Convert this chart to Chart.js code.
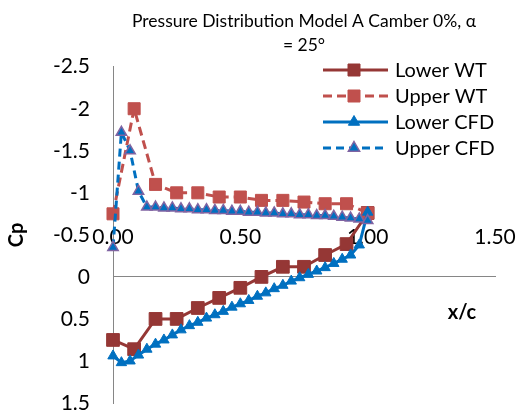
<!DOCTYPE html>
<html><head><meta charset="utf-8">
<script src="https://cdn.jsdelivr.net/npm/chart.js@4.4.1/dist/chart.umd.min.js"></script>
<style>html,body{margin:0;padding:0;background:#fff}#wrap{width:520px;height:419px}</style>
</head><body><div id="wrap"><canvas id="c" width="520" height="419"></canvas></div>
<script>
const xWT = [0, 0.083, 0.167, 0.25, 0.333, 0.417, 0.5, 0.583, 0.667, 0.75, 0.833, 0.917, 1.0];
const lowerWT = [0.75, 0.86, 0.50, 0.50, 0.37, 0.25, 0.13, 0.00, -0.12, -0.12, -0.26, -0.39, -0.76];
const upperWT = [-0.75, -2.00, -1.10, -1.00, -1.00, -0.95, -0.95, -0.91, -0.91, -0.89, -0.87, -0.87, -0.76];
const xCFD = [0, 0.033, 0.067, 0.1, 0.133, 0.167, 0.2, 0.233, 0.267, 0.3, 0.333, 0.367, 0.4, 0.433, 0.467, 0.5,
  0.533, 0.567, 0.6, 0.633, 0.667, 0.7, 0.733, 0.767, 0.8, 0.833, 0.867, 0.9, 0.933, 0.967, 1.0];
const lowerCFD = [0.94, 1.02, 1.00, 0.93, 0.86, 0.80, 0.75, 0.69, 0.63, 0.58, 0.54, 0.49, 0.45, 0.41, 0.36, 0.32,
  0.28, 0.23, 0.19, 0.14, 0.10, 0.05, 0.01, -0.03, -0.07, -0.11, -0.16, -0.21, -0.26, -0.38, -0.77];
const upperCFD = [-0.35, -1.72, -1.50, -1.02, -0.83, -0.83, -0.82, -0.82, -0.81, -0.81, -0.80, -0.80, -0.79, -0.79, -0.78, -0.78,
  -0.77, -0.77, -0.76, -0.76, -0.75, -0.75, -0.74, -0.74, -0.73, -0.73, -0.72, -0.71, -0.70, -0.69, -0.67];
const xTicks = [0, 0.5, 1, 1.5];
const xTickLabels = ['0.00', '0.50', '1.00', '1.50'];
const yTicks = [-2.5, -2, -1.5, -1, -0.5, 0, 0.5, 1, 1.5];
const yTickLabels = ['-2.5', '-2', '-1.5', '-1', '-0.5', '0', '0.5', '1', '1.5'];
const seriesNames = ['Lower WT', 'Upper WT', 'Lower CFD', 'Upper CFD'];
const titleLines = ['Pressure Distribution Model A Camber 0%, \u03b1', '= 25\u00b0'];

Chart.defaults.font.family = 'Lato, "Open Sans", sans-serif';
Chart.defaults.color = '#000';

const pts = (xs, ys) => xs.map((x, i) => ({x: x, y: ys[i]}));

const legendPlugin = {
  id: 'excelLegend',
  afterDraw(chart) {
    const ctx = chart.ctx;
    const ds = chart.data.datasets;
    ctx.save();
    ds.forEach((d, i) => {
      const y = 70 + i * 26;
      ctx.strokeStyle = d.borderColor;
      ctx.lineWidth = d.borderWidth;
      ctx.setLineDash(d.borderDash || []);
      ctx.beginPath(); ctx.moveTo(323, y); ctx.lineTo(388, y); ctx.stroke();
      ctx.setLineDash([]);
      const cx = 354;
      ctx.fillStyle = d.pointBackgroundColor;
      ctx.strokeStyle = d.pointBorderColor;
      ctx.lineWidth = d.pointBorderWidth;
      ctx.beginPath();
      if (d.pointStyle === 'rect') {
        const s = 6;
        ctx.rect(cx - s, y - s, 2 * s, 2 * s);
      } else {
        const r = 6.5;
        ctx.moveTo(cx, y - r);
        ctx.lineTo(cx + r * 0.866, y + r / 2);
        ctx.lineTo(cx - r * 0.866, y + r / 2);
        ctx.closePath();
      }
      ctx.fill();
      if (d.pointBorderWidth > 0) ctx.stroke();
      ctx.fillStyle = '#000';
      ctx.font = '20px Lato, "Open Sans", sans-serif';
      ctx.textBaseline = 'middle';
      ctx.textAlign = 'left';
      ctx.fillText(seriesNames[i], 395, y + 1);
    });
    ctx.font = 'bold 20px Lato, "Open Sans", sans-serif';
    ctx.textAlign = 'center';
    ctx.textBaseline = 'middle';
    ctx.fillText('x/c', 462, 313);
    ctx.restore();
  }
};

new Chart(document.getElementById('c'), {
  type: 'scatter',
  data: {
    datasets: [
      {label: seriesNames[0], data: pts(xWT, lowerWT), showLine: true, borderColor: '#953735', backgroundColor: '#953735',
        borderWidth: 3, pointStyle: 'rect', pointRadius: 9, pointBackgroundColor: '#953735', pointBorderColor: '#953735',
        pointBorderWidth: 1, order: 4, clip: false},
      {label: seriesNames[1], data: pts(xWT, upperWT), showLine: true, borderColor: '#C0504D', backgroundColor: '#C0504D',
        borderWidth: 3, borderDash: [9, 5], pointStyle: 'rect', pointRadius: 8.5, pointBackgroundColor: '#C0504D', pointBorderColor: '#C0504D',
        pointBorderWidth: 1, order: 3, clip: false},
      {label: seriesNames[2], data: pts(xCFD, lowerCFD), showLine: true, borderColor: '#0070C0', backgroundColor: '#0070C0',
        borderWidth: 3, pointStyle: 'triangle', pointRadius: 6, pointBackgroundColor: '#0070C0', pointBorderColor: '#0070C0',
        pointBorderWidth: 1, order: 2, clip: false},
      {label: seriesNames[3], data: pts(xCFD, upperCFD), showLine: true, borderColor: '#0070C0', backgroundColor: '#0070C0',
        borderWidth: 3, borderDash: [8, 5], pointStyle: 'triangle', pointRadius: 6, pointBackgroundColor: '#0070C0', pointBorderColor: '#8064A2',
        pointBorderWidth: 1.5, order: 1, clip: false}
    ]
  },
  options: {
    responsive: false,
    animation: false,
    events: [],
    layout: {padding: {left: 0, top: 0, right: 25, bottom: 16}},
    plugins: {
      legend: {display: false},
      tooltip: {enabled: false},
      title: {display: true, text: titleLines, fullSize: false, color: '#000',
        font: {size: 17.5, weight: 'normal', lineHeight: '24px'}, padding: {top: 9, bottom: 9.7}}
    },
    scales: {
      x: {
        type: 'linear', position: {y: 0}, min: 0, max: 1.5,
        afterBuildTicks: s => { s.ticks = xTicks.map(v => ({value: v})); },
        afterFit: s => { s.height = 0; },
        ticks: {callback: v => xTickLabels[xTicks.indexOf(v)], padding: -52, font: {size: 21}, maxRotation: 0, autoSkip: false},
        grid: {display: false, drawTicks: false},
        border: {display: true, color: '#868686', width: 1}
      },
      y: {
        type: 'linear', position: 'left', reverse: true, min: -2.5, max: 1.5,
        afterBuildTicks: s => { s.ticks = yTicks.map(v => ({value: v})); },
        afterFit: s => { s.width = 113; s.paddingTop = 10; s.paddingBottom = 10; },
        ticks: {callback: v => yTickLabels[yTicks.indexOf(v)], padding: 23, font: {size: 21}, autoSkip: false},
        grid: {display: false, drawTicks: false},
        border: {display: true, color: '#868686', width: 1},
        title: {display: true, text: 'Cp', font: {size: 20, weight: 'bold'}, padding: {top: 5, bottom: 0}}
      }
    }
  },
  plugins: [legendPlugin]
});
</script>
</body></html>
